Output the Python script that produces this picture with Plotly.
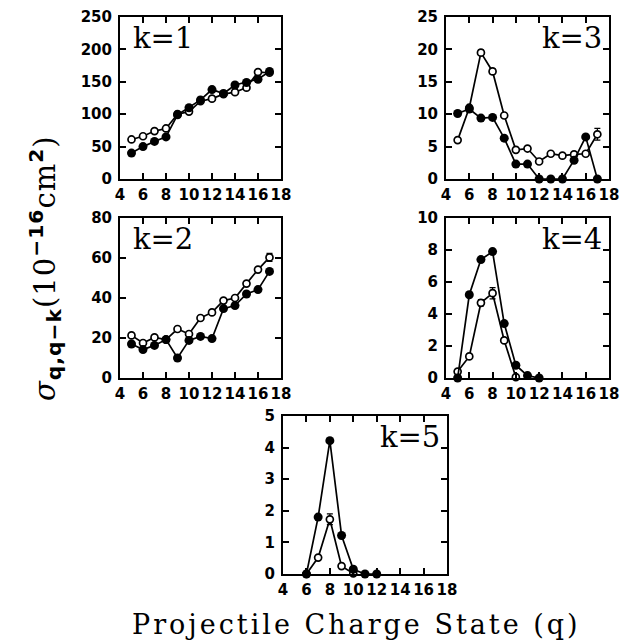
import plotly.graph_objects as go

# ---------------- data ----------------
q_all = [5, 6, 7, 8, 9, 10, 11, 12, 13, 14, 15, 16, 17]

k1_filled = [40, 50, 58, 65, 99, 110, 122, 138, 132, 145, 149, 154, 166]
k1_open = [61, 66, 74, 78, 100, 104, 120, 124, 131, 134, 141, 165, 164]

k2_filled = [17, 14.2, 16.3, 19.2, 10, 18.8, 20.8, 19.7, 34.7, 36.2, 42, 44.2, 53.3]
k2_open = [21.3, 17.5, 20.3, 19.2, 24.5, 22, 30, 32.8, 38.7, 40, 47.2, 54.2, 60.3]
k2_open_err = [0, 0, 0, 0, 0, 0, 0, 0, 0, 0, 0, 0, 2]

k3_filled = [10.1, 10.8, 9.4, 9.5, 6.3, 2.3, 2.3, 0, 0, 0, 2.9, 6.5, 0]
k3_open = [6.0, 11.0, 19.5, 16.6, 9.8, 4.5, 4.7, 2.7, 3.9, 3.6, 3.8, 3.9, 6.9]
k3_open_err = [0, 0, 0.4, 0.4, 0, 0, 0, 0, 0, 0, 0, 0, 0.9]

q4_filled = [5, 6, 7, 8, 9, 10, 11, 12]
k4_filled = [0, 5.2, 7.4, 7.9, 3.4, 0.8, 0.15, 0]
q4_open = [5, 6, 7, 8, 9, 10]
k4_open = [0.4, 1.35, 4.7, 5.3, 2.35, 0.05]
k4_open_err = [0, 0, 0.2, 0.35, 0, 0]

q5_filled = [6, 7, 8, 9, 10, 11, 12]
k5_filled = [0, 1.8, 4.22, 1.22, 0.15, 0, 0]
q5_open = [6, 7, 8, 9, 10]
k5_open = [0, 0.52, 1.73, 0.25, 0.02]
k5_open_err = [0, 0, 0.17, 0, 0]

x_ticks = [4, 6, 8, 10, 12, 14, 16, 18]

panels = [
    ("k=1", q_all, k1_filled, q_all, k1_open, None, [0, 50, 100, 150, 200, 250], 250, (120, 281), (17, 179), "left"),
    ("k=3", q_all, k3_filled, q_all, k3_open, k3_open_err, [0, 5, 10, 15, 20, 25], 25, (446, 609), (17, 179), "right"),
    ("k=2", q_all, k2_filled, q_all, k2_open, k2_open_err, [0, 20, 40, 60, 80], 80, (120, 281), (218, 378), "left"),
    ("k=4", q4_filled, k4_filled, q4_open, k4_open, k4_open_err, [0, 2, 4, 6, 8, 10], 10, (446, 609), (218, 378), "right"),
    ("k=5", q5_filled, k5_filled, q5_open, k5_open, k5_open_err, [0, 1, 2, 3, 4, 5], 5, (283, 447), (416, 574), "right"),
]

W, H = 622, 642
fig = go.Figure()
tickfont = dict(family="DejaVu Sans", size=15, color="black", weight="bold")

annotations = []
for i, (lab, qf, yf, qo, yo, err, yt, ymax, xd, yd, lpos) in enumerate(panels):
    n = "" if i == 0 else str(i + 1)
    xa, ya = "x" + n, "y" + n
    line = dict(color="black", width=1.7)
    open_trace = go.Scatter(
        x=qo, y=yo, mode="lines+markers", xaxis=xa, yaxis=ya,
        line=line, cliponaxis=False,
        marker=dict(symbol="circle", size=7, color="white", line=dict(color="black", width=1.7)),
    )
    if err is not None:
        open_trace.error_y = dict(type="data", array=err, visible=True, color="black", thickness=1.2, width=3)
    fig.add_trace(open_trace)
    fig.add_trace(go.Scatter(
        x=qf, y=yf, mode="lines+markers", xaxis=xa, yaxis=ya,
        line=line, cliponaxis=False,
        marker=dict(symbol="circle", size=9, color="black"),
    ))
    axcommon = dict(showline=True, linecolor="black", linewidth=2, mirror="ticks",
                    ticks="inside", ticklen=6, tickwidth=1.5, tickcolor="black",
                    showgrid=False, zeroline=False, tickfont=tickfont,
                    tickangle=0, automargin=False)
    fig.layout["xaxis" + n] = dict(
        axcommon, domain=[xd[0] / W, xd[1] / W], range=[4, 18],
        tickvals=x_ticks, ticktext=[str(v) for v in x_ticks], anchor=ya, ticklabelstandoff=1,
    )
    fig.layout["yaxis" + n] = dict(
        axcommon, domain=[1 - yd[1] / H, 1 - yd[0] / H], range=[0, ymax],
        tickvals=yt, ticktext=[str(v) for v in yt], anchor=xa, ticklabelstandoff=3,
    )
    if lpos == "left":
        ax_x, xanchor = 0.07, "left"
    else:
        ax_x, xanchor = 0.97, "right"
    annotations.append(dict(
        text=lab, xref=xa + " domain", yref=ya + " domain", x=ax_x, y=0.99,
        xanchor=xanchor, yanchor="top", showarrow=False,
        font=dict(family="DejaVu Serif", size=29, color="black"),
    ))

annotations.append(dict(
    text="<span style='letter-spacing:3px'>Projectile Charge State (q)</span>", xref="paper", yref="paper",
    x=356 / W, y=1 - 624 / H, xanchor="center", yanchor="middle", showarrow=False,
    font=dict(family="DejaVu Serif", size=27, color="black"),
))
annotations.append(dict(
    text="<span style='letter-spacing:1px'><i>σ</i><sub><b><span style='font-family:DejaVu Sans'>q,q−k</span></b></sub>(10<sup><b><span style='font-family:DejaVu Sans'>−16</span></b></sup>cm<sup><b><span style='font-family:DejaVu Sans'>2</span></b></sup>)</span>",
    xref="paper", yref="paper", x=45 / W, y=1 - 268 / H,
    xanchor="center", yanchor="middle", textangle=-90, showarrow=False,
    font=dict(family="DejaVu Serif", size=29, color="black"),
))

fig.update_layout(
    width=W, height=H, margin=dict(l=0, r=0, t=0, b=0),
    paper_bgcolor="white", plot_bgcolor="white", showlegend=False,
    annotations=annotations,
)

fig.write_html("out.html")
